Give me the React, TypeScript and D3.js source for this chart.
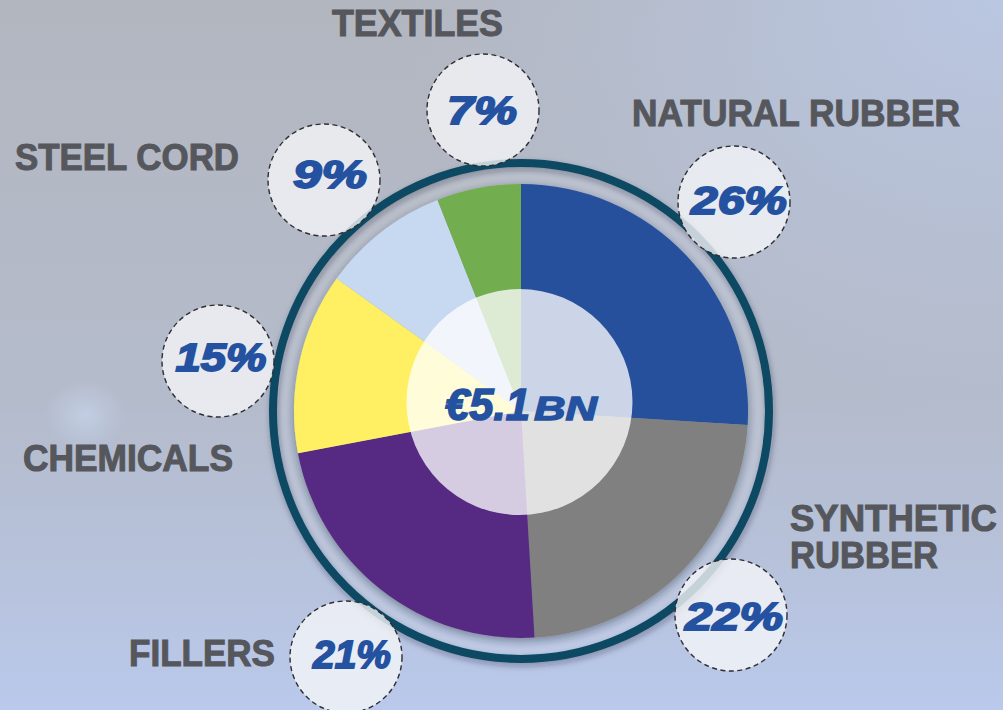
import React from "react";
import * as d3 from "d3";

const categories = ["NATURAL RUBBER", "SYNTHETIC RUBBER", "FILLERS", "CHEMICALS", "STEEL CORD", "TEXTILES"];
// slice sizes as drawn in the picture (degrees of arc measured / 3.6)
const sliceShares = [26.0, 23.1, 23.0, 12.9, 9.1, 6.0];
// labels printed in the bubbles
const percentLabels = ["26%", "22%", "21%", "15%", "9%", "7%"];
const colors = ["#25509c", "#808080", "#572a82", "#fff064", "#c7d9f0", "#72ad4f"];
const totalLabelMain = "€5.1";
const totalLabelUnit = "BN";

// layout for bubbles and labels (positions, not data)
const bubbles = [
  { cx: 734, cy: 202, tx: 739, ty: 214, tw: 98 },
  { cx: 731, cy: 615, tx: 734, ty: 630, tw: 100 },
  { cx: 346, cy: 657, tx: 352, ty: 668, tw: 80 },
  { cx: 218, cy: 361, tx: 221, ty: 371, tw: 93 },
  { cx: 324, cy: 180, tx: 330, ty: 188, tw: 76 },
  { cx: 483, cy: 110, tx: 482, ty: 124, tw: 72 },
];
const labelLayout = [
  [{ text: "NATURAL RUBBER", x: 632, y: 126, w: 328 }],
  [
    { text: "SYNTHETIC", x: 790, y: 531, w: 207 },
    { text: "RUBBER", x: 790, y: 568, w: 148 },
  ],
  [{ text: "FILLERS", x: 129, y: 666, w: 146 }],
  [{ text: "CHEMICALS", x: 23, y: 471, w: 210 }],
  [{ text: "STEEL CORD", x: 15, y: 170, w: 224 }],
  [{ text: "TEXTILES", x: 332, y: 36, w: 171 }],
];

const FONT = "'Liberation Sans', Arial, sans-serif";

export default function App() {
  const W = 1003;
  const H = 710;
  const cx = 521;
  const cy = 411;
  const R = 227;

  const pie = d3.pie<number>().sort(null).value((d) => d)(sliceShares);
  const arc = d3.arc<d3.PieArcDatum<number>>().innerRadius(0).outerRadius(R);

  return (
    <svg
      width={W}
      height={H}
      style={{ position: "absolute", left: 0, top: 0, display: "block" }}
    >
      <defs>
        <linearGradient id="bgv" x1="0" y1="0" x2="0" y2="1">
          <stop offset="0" stopColor="#b9c6e2" stopOpacity="0" />
          <stop offset="0.55" stopColor="#b7c4e0" stopOpacity="0.35" />
          <stop offset="1" stopColor="#bac9ec" stopOpacity="1" />
        </linearGradient>
        <radialGradient id="bgtr" cx="1" cy="0" r="0.6">
          <stop offset="0" stopColor="#bac7e2" stopOpacity="1" />
          <stop offset="1" stopColor="#bac7e2" stopOpacity="0" />
        </radialGradient>
        <radialGradient id="spot" cx="0.5" cy="0.5" r="0.5">
          <stop offset="0" stopColor="#c8d5ec" stopOpacity="0.7" />
          <stop offset="1" stopColor="#c8d5ec" stopOpacity="0" />
        </radialGradient>
        <filter id="pieShadow" x="-20%" y="-20%" width="140%" height="140%">
          <feDropShadow dx="0" dy="3" stdDeviation="5" floodColor="#1a2030" floodOpacity="0.45" />
        </filter>
        <filter id="ringShadow" x="-20%" y="-20%" width="140%" height="140%">
          <feDropShadow dx="1" dy="3" stdDeviation="3" floodColor="#1a2030" floodOpacity="0.35" />
        </filter>
      </defs>

      <rect x={0} y={0} width={W} height={H} fill="#b2b6bf" />
      <rect x={0} y={0} width={W} height={H} fill="url(#bgtr)" />
      <rect x={0} y={0} width={W} height={H} fill="url(#bgv)" />
      <ellipse cx={85} cy={415} rx={40} ry={36} fill="url(#spot)" />

      {/* ring */}
      <circle cx={cx} cy={cy} r={247} fill="#ffffff" fillOpacity={0.1} />
      <circle
        cx={cx}
        cy={cy}
        r={248}
        fill="none"
        stroke="#0b4a63"
        strokeWidth={8}
        filter="url(#ringShadow)"
      />

      {/* pie */}
      <g transform={`translate(${cx},${cy})`} filter="url(#pieShadow)">
        {pie.map((p, i) => (
          <path key={categories[i]} d={arc(p) || ""} fill={colors[i]} />
        ))}
      </g>
      <circle cx={519.5} cy={402} r={113} fill="#ffffff" fillOpacity={0.76} />

      <text
        x={445}
        y={420}
        fontFamily={FONT}
        fontWeight="bold"
        fontStyle="italic"
        fontSize={44}
        fill="#2452a0"
        stroke="#2452a0"
        strokeWidth={1.6}
        textLength={85}
        lengthAdjust="spacingAndGlyphs"
      >
        {totalLabelMain}
      </text>
      <text
        x={534}
        y={420}
        fontFamily={FONT}
        fontWeight="bold"
        fontStyle="italic"
        fontSize={34}
        fill="#2452a0"
        stroke="#2452a0"
        strokeWidth={1.4}
        textLength={63}
        lengthAdjust="spacingAndGlyphs"
      >
        {totalLabelUnit}
      </text>

      {/* bubbles */}
      {bubbles.map((b, i) => (
        <g key={"b" + i}>
          <circle
            cx={b.cx}
            cy={b.cy}
            r={56}
            fill="#f4f5f8"
            fillOpacity={0.8}
            stroke="#2e2e33"
            strokeWidth={1.4}
            strokeDasharray="5 3.5"
          />
          <text
            x={b.tx}
            y={b.ty}
            textAnchor="middle"
            fontFamily={FONT}
            fontWeight="bold"
            fontStyle="italic"
            fontSize={39}
            fill="#2452a0"
            stroke="#2452a0"
            strokeWidth={1.8}
            textLength={b.tw - 2}
            lengthAdjust="spacingAndGlyphs"
          >
            {percentLabels[i]}
          </text>
        </g>
      ))}

      {/* category labels */}
      {labelLayout.map((lines, i) =>
        lines.map((l, j) => (
          <text
            key={categories[i] + j}
            x={l.x}
            y={l.y}
            fontFamily={FONT}
            fontWeight="bold"
            fontSize={36}
            fill="#55575c"
            stroke="#55575c"
            strokeWidth={1}
            textLength={l.w}
            lengthAdjust="spacingAndGlyphs"
          >
            {l.text}
          </text>
        ))
      )}
    </svg>
  );
}
